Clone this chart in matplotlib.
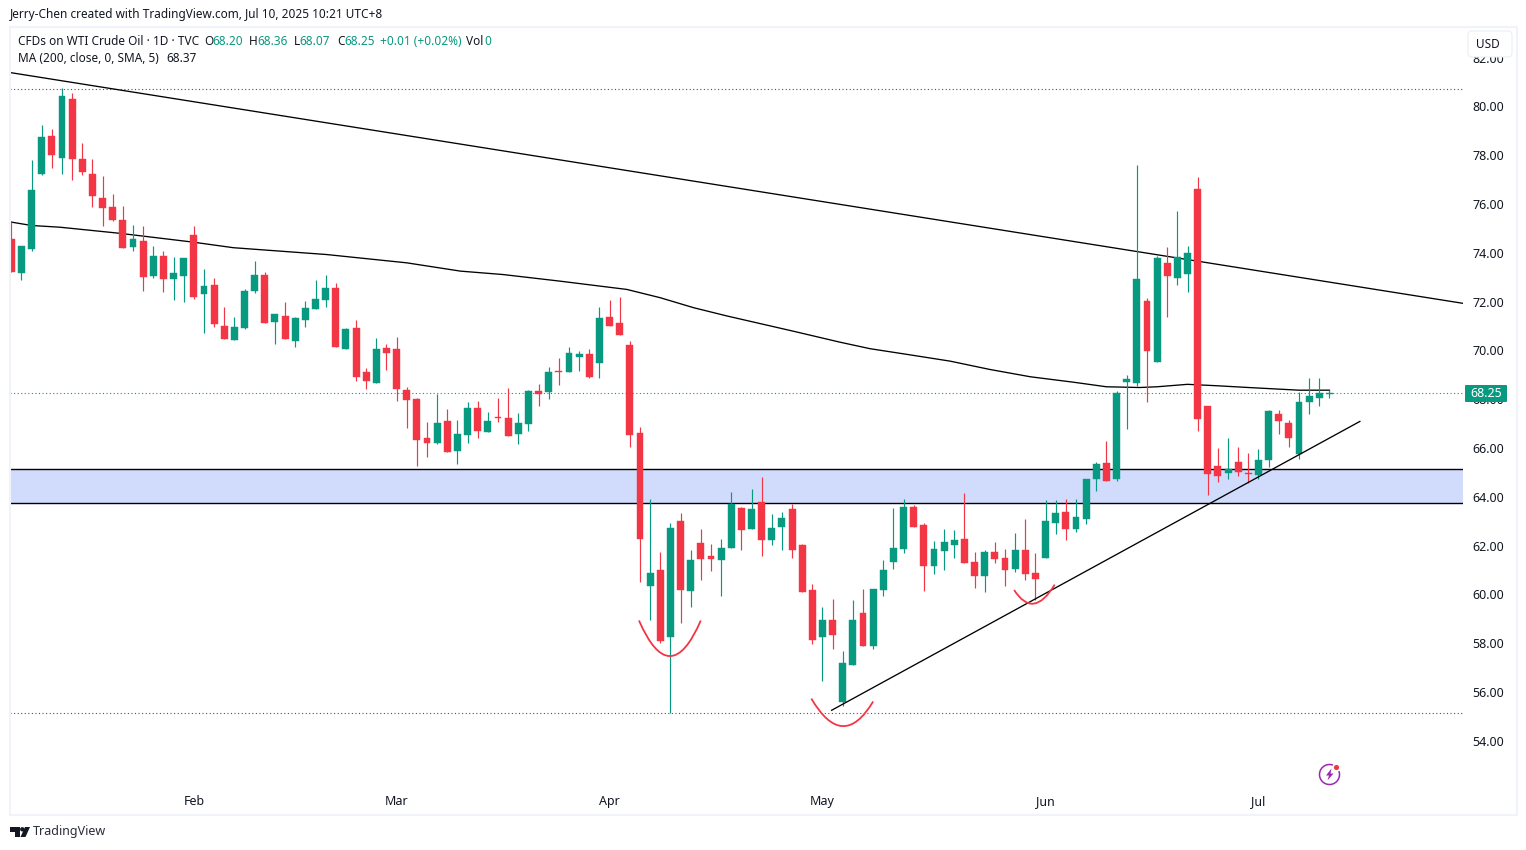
import numpy as np
import matplotlib
matplotlib.use('Agg')
import matplotlib.pyplot as plt
from matplotlib.patches import Circle, FancyBboxPatch, PathPatch, Polygon, Rectangle, Arc
from matplotlib.path import Path
from matplotlib.transforms import IdentityTransform

# candles (one per trading day)
opens = [74.55,73.16,74.14,77.25,78.77,77.87,80.29,77.83,77.25,76.23,75.86,75.33,74.22,74.47,73.07,73.89,72.91,73.07,74.75,72.30,72.70,71.02,70.41,70.90,72.42,73.11,71.15,71.43,70.37,71.23,71.68,72.05,72.54,
         70.04,70.90,69.10,68.65,70.08,70.04,68.36,67.99,66.39,66.19,67.09,65.86,66.52,67.66,66.64,67.26,67.21,66.56,66.97,68.32,68.28,69.14,69.10,69.75,69.84,69.47,71.35,71.11,70.21,
         66.60,60.33,60.98,58.24,62.99,60.12,62.09,61.56,61.43,61.92,63.56,62.70,63.77,62.21,62.78,63.52,62.01,60.16,58.24,58.93,55.57,57.09,59.22,57.87,
         60.16,61.31,61.88,63.60,62.83,61.15,61.76,62.01,62.25,61.31,60.74,61.72,61.51,61.06,61.84,60.86,61.51,62.91,63.36,62.66,63.11,64.75,65.37,64.72,
         68.69,68.65,72.01,69.51,73.57,72.95,73.12,76.60,67.71,65.25,64.96,65.41,64.96,64.88,65.49,67.38,67.01,65.74,67.87,68.03,68.20]
highs = [75.26,74.26,77.79,79.22,79.06,80.74,80.57,78.52,77.83,77.13,76.43,75.94,75.16,75.12,74.26,74.06,73.81,73.77,75.12,73.32,72.95,71.80,71.39,72.50,73.65,73.20,71.48,71.97,71.39,72.01,72.87,73.11,72.75,
         70.90,71.23,69.26,70.49,70.25,70.57,68.52,68.07,67.05,68.20,67.58,67.13,67.87,67.91,67.46,68.07,68.48,67.42,68.36,68.61,69.30,69.67,70.16,69.96,70.04,71.80,72.05,72.21,70.37,
         66.88,63.89,61.72,62.91,63.32,61.84,62.66,62.05,62.29,64.18,63.60,64.34,64.83,63.28,63.36,63.69,62.05,60.41,59.47,59.83,57.66,59.79,60.24,60.24,
         61.43,63.56,63.89,63.65,62.91,62.17,62.70,62.62,64.14,61.72,61.84,62.13,61.88,62.50,63.07,61.68,63.85,63.85,63.93,63.93,64.75,65.41,66.27,68.32,
         68.98,77.58,72.13,73.85,74.22,75.70,74.26,77.09,67.71,65.98,66.39,66.06,65.78,65.94,67.54,67.54,67.13,68.28,68.89,68.89,68.36]
lows = [73.20,72.87,74.06,77.21,77.46,77.25,76.97,77.17,75.86,75.08,75.29,74.18,74.06,72.42,72.95,72.38,72.05,71.97,72.09,70.70,70.98,70.45,70.41,70.86,72.34,71.11,70.25,70.45,70.16,70.94,71.68,71.76,70.16,
        70.04,68.73,68.40,68.65,69.18,67.91,66.80,65.25,65.62,66.15,65.82,65.33,66.19,66.39,66.64,67.05,66.48,66.15,66.68,67.71,67.99,68.57,69.10,69.14,68.89,68.89,71.02,70.62,66.03,
        60.49,58.97,57.99,55.15,58.81,59.47,60.61,60.94,59.92,61.92,61.80,62.70,61.56,62.01,61.84,61.51,60.08,57.95,56.43,57.78,55.41,57.09,57.87,57.78,
        59.92,61.06,61.68,62.78,60.12,60.82,61.02,61.51,61.27,60.28,60.08,61.27,60.33,60.90,60.57,59.79,61.51,62.46,62.21,62.54,62.87,64.22,64.63,64.63,
        66.76,68.53,67.87,69.51,71.35,72.67,72.38,66.68,64.06,64.59,64.71,64.84,64.55,64.71,65.24,66.56,66.06,65.57,67.38,67.74,68.07]
closes = [73.20,74.26,76.56,78.73,77.99,80.41,77.83,77.30,76.31,75.82,75.33,74.18,74.55,72.99,73.89,72.91,73.16,73.77,72.21,72.66,71.07,70.45,70.98,72.42,73.11,71.11,71.48,70.45,71.31,71.72,72.09,72.54,70.16,
          70.86,68.93,68.73,70.04,69.88,68.40,67.95,66.31,66.19,67.01,65.82,66.56,67.66,66.68,67.09,67.21,66.48,67.01,68.32,68.20,69.10,69.10,69.88,69.84,68.93,71.31,71.02,70.62,66.52,
          62.25,60.86,58.11,62.74,60.16,61.43,61.47,61.47,61.92,63.69,62.62,63.48,62.21,62.74,63.15,61.80,60.08,58.15,58.93,58.32,57.17,58.97,57.87,60.24,
          61.02,61.92,63.60,62.78,61.15,61.88,62.13,62.21,61.27,60.74,61.72,61.47,60.98,61.84,60.82,60.65,62.99,63.32,62.66,63.19,64.75,65.33,64.63,68.24,
          68.81,72.91,69.96,73.77,73.04,73.81,73.98,67.17,64.92,64.84,65.16,65.00,64.92,65.49,67.50,67.09,66.43,67.87,68.15,68.24,68.25]

# 200 day average, sampled along the curve
ma_days = [0,2,4.8,10.7,17.9,21.9,31.1,39,44.3,48.5,54.1,60.7,64,67.3,70.6,77.1,81.7,84.7,88.3,92.6,96.5,100.5,104.7,108,111.3,113,116,119,122,127,130]
ma_vals = [75.26,75.12,75.05,74.80,74.44,74.21,73.93,73.59,73.25,73.11,72.84,72.50,72.16,71.75,71.41,70.79,70.34,70.07,69.84,69.56,69.22,68.92,68.70,68.51,68.48,68.51,68.61,68.55,68.48,68.37,68.37]

# drawings on the chart
down_trend_x = [-0.13, 143.17]
down_trend_y = [81.39, 71.93]
up_trend_x = [80.9, 133.0]
up_trend_y = [55.25, 67.09]
zone_low, zone_high = 63.75, 65.14
high_level, low_level = 80.72, 55.14
last_price = 68.25
cup_x = [[61.9, 64.96, 68.0], [78.9, 82.0, 85.0], [98.9, 100.8, 102.9]]
cup_y = [[58.93, 57.47, 58.93], [55.73, 54.60, 55.61], [60.18, 59.62, 60.40]]

month_days = [18, 38, 59, 80, 102, 123]
month_names = ['Feb', 'Mar', 'Apr', 'May', 'Jun', 'Jul']
price_ticks = [54, 56, 58, 60, 62, 64, 66, 68, 70, 72, 74, 76, 78, 80, 82]

W, H = 1526, 850
GREEN = '#089981'
RED = '#f23645'
INK = '#131722'
FONT = 'Noto Sans'

plt.rcParams['font.family'] = FONT
fig = plt.figure(figsize=(W / 100, H / 100), dpi=100, facecolor='white')
ax = fig.add_axes([10 / W, 1 - 786.4 / H, 1453 / W, 759 / H])
ax.set_xlim(-0.13, 143.17)
ax.set_ylim(52.13, 83.24)
for s in ax.spines.values():
    s.set_visible(False)

opens = np.array(opens)
closes = np.array(closes)
highs = np.array(highs)
lows = np.array(lows)
days = np.arange(len(opens))
colors = np.where(closes >= opens, GREEN, RED)

# zone and drawings go under the candles
ax.axhspan(zone_low, zone_high, color='#d1dcfd', lw=0, zorder=1)
ax.axhline(zone_low, color='black', lw=1.0, zorder=1.5)
ax.axhline(zone_high, color='black', lw=1.0, zorder=1.5)
ax.axhline(high_level, color='#50535e', lw=0.8, ls=(0, (1, 2.2)), zorder=1.5)
ax.axhline(low_level, color='#50535e', lw=0.8, ls=(0, (1, 2.2)), zorder=1.5)
ax.plot(down_trend_x, down_trend_y, color='black', lw=0.95, zorder=2)
ax.plot(ma_days, ma_vals, color='black', lw=0.95, zorder=2)

ax.vlines(days, lows, highs, colors=colors, lw=0.85, zorder=3)
ax.bar(days, np.abs(closes - opens), bottom=np.minimum(opens, closes), width=0.68,
       color=colors, edgecolor=colors, linewidth=0.3, zorder=4)

ax.plot(up_trend_x, up_trend_y, color='black', lw=0.95, zorder=5)
ax.axhline(last_price, color=GREEN, lw=0.8, ls=(0, (1, 2.2)), zorder=5)

for cx, cy in zip(cup_x, cup_y):
    # control point so the curve passes through the lowest point read
    ctrl = (cx[1], 2 * cy[1] - (cy[0] + cy[2]) / 2)
    cup = Path([(cx[0], cy[0]), ctrl, (cx[2], cy[2])], [Path.MOVETO, Path.CURVE3, Path.CURVE3])
    ax.add_patch(PathPatch(cup, fill=False, ec=RED, lw=1.3, zorder=6))

ax.yaxis.tick_right()
ax.set_yticks(price_ticks)
ax.set_yticklabels(['%.2f' % p for p in price_ticks])
ax.set_xticks(month_days)
ax.set_xticklabels(month_names)
ax.tick_params(axis='y', length=0, pad=7, labelsize=9, labelcolor=INK)
ax.tick_params(axis='x', length=0, pad=6, labelsize=9, labelcolor=INK)


def px(x, y):
    return x, H - y


def label(x, y, s, color=INK, size=8.5, ha='left', **kw):
    fig.text(x / W, 1 - y / H, s, color=color, fontsize=size, ha=ha, va='center', **kw)


pix = IdentityTransform()

# pane border
fig.add_artist(Rectangle(px(9.5, 815), 1507, 788, fill=False, ec='#f0f3fa', lw=1.5, transform=pix))

label(10, 14.5, 'Jerry-Chen created with TradingView.com, Jul 10, 2025 10:21 UTC+8')

label(18, 41.5, 'CFDs on WTI Crude Oil · 1D · TVC')
for x, s in [(204, 'O'), (249, 'H'), (294, 'L'), (337, 'C'), (466, 'Vol')]:
    label(x, 41.5, s)
for x, s in [(212, '68.20'), (257, '68.36'), (299.5, '68.07'), (344, '68.25'),
             (380, '+0.01 (+0.02%)'), (484, '0')]:
    label(x, 41.5, s, color=GREEN)
label(18, 58.5, 'MA (200, close, 0, SMA, 5)')
label(166, 58.5, '68.37')

# USD button
fig.add_artist(FancyBboxPatch(px(1471, 54), 38, 20, boxstyle='round,pad=3,rounding_size=4',
                              fc='white', ec='#eceef2', lw=0.8, transform=pix, zorder=2))
label(1488, 44.5, 'USD', ha='center', size=8.5)

# last price tag
fig.add_artist(FancyBboxPatch(px(1466, 401), 40, 15, boxstyle='round,pad=1,rounding_size=1',
                              fc=GREEN, ec='none', transform=pix, zorder=2))
label(1486.5, 393.5, '68.25', color='white', ha='center', size=9, fontweight='bold')

# TradingView logo
fig.add_artist(Polygon([px(10, 827), px(20, 827), px(20, 837), px(15, 837), px(15, 832), px(10, 832)],
                       fc=INK, ec='none', transform=pix))
fig.add_artist(Circle(px(22.3, 829.3), 2.2, fc=INK, ec='none', transform=pix))
fig.add_artist(Polygon([px(25, 827), px(30, 827), px(25.5, 837), px(20.5, 837)],
                       fc=INK, ec='none', transform=pix))
label(33, 832, 'TradingView', size=9, color='#2a2e39')

# lightning icon
fig.add_artist(Arc(px(1329.5, 774.5), 20, 20, theta1=70, theta2=20, ec='#9c27b0', lw=1.1, transform=pix))
fig.add_artist(Circle(px(1336.5, 767.5), 2.6, fc=RED, ec='none', transform=pix))
fig.add_artist(Polygon([px(1331.5, 768.5), px(1326, 775.5), px(1329, 775.5), px(1327.5, 780.5),
                        px(1333.5, 773.5), px(1330.5, 773.5)],
                       fc='#9c27b0', ec='none', transform=pix))

fig.savefig('out.png', dpi=100)
